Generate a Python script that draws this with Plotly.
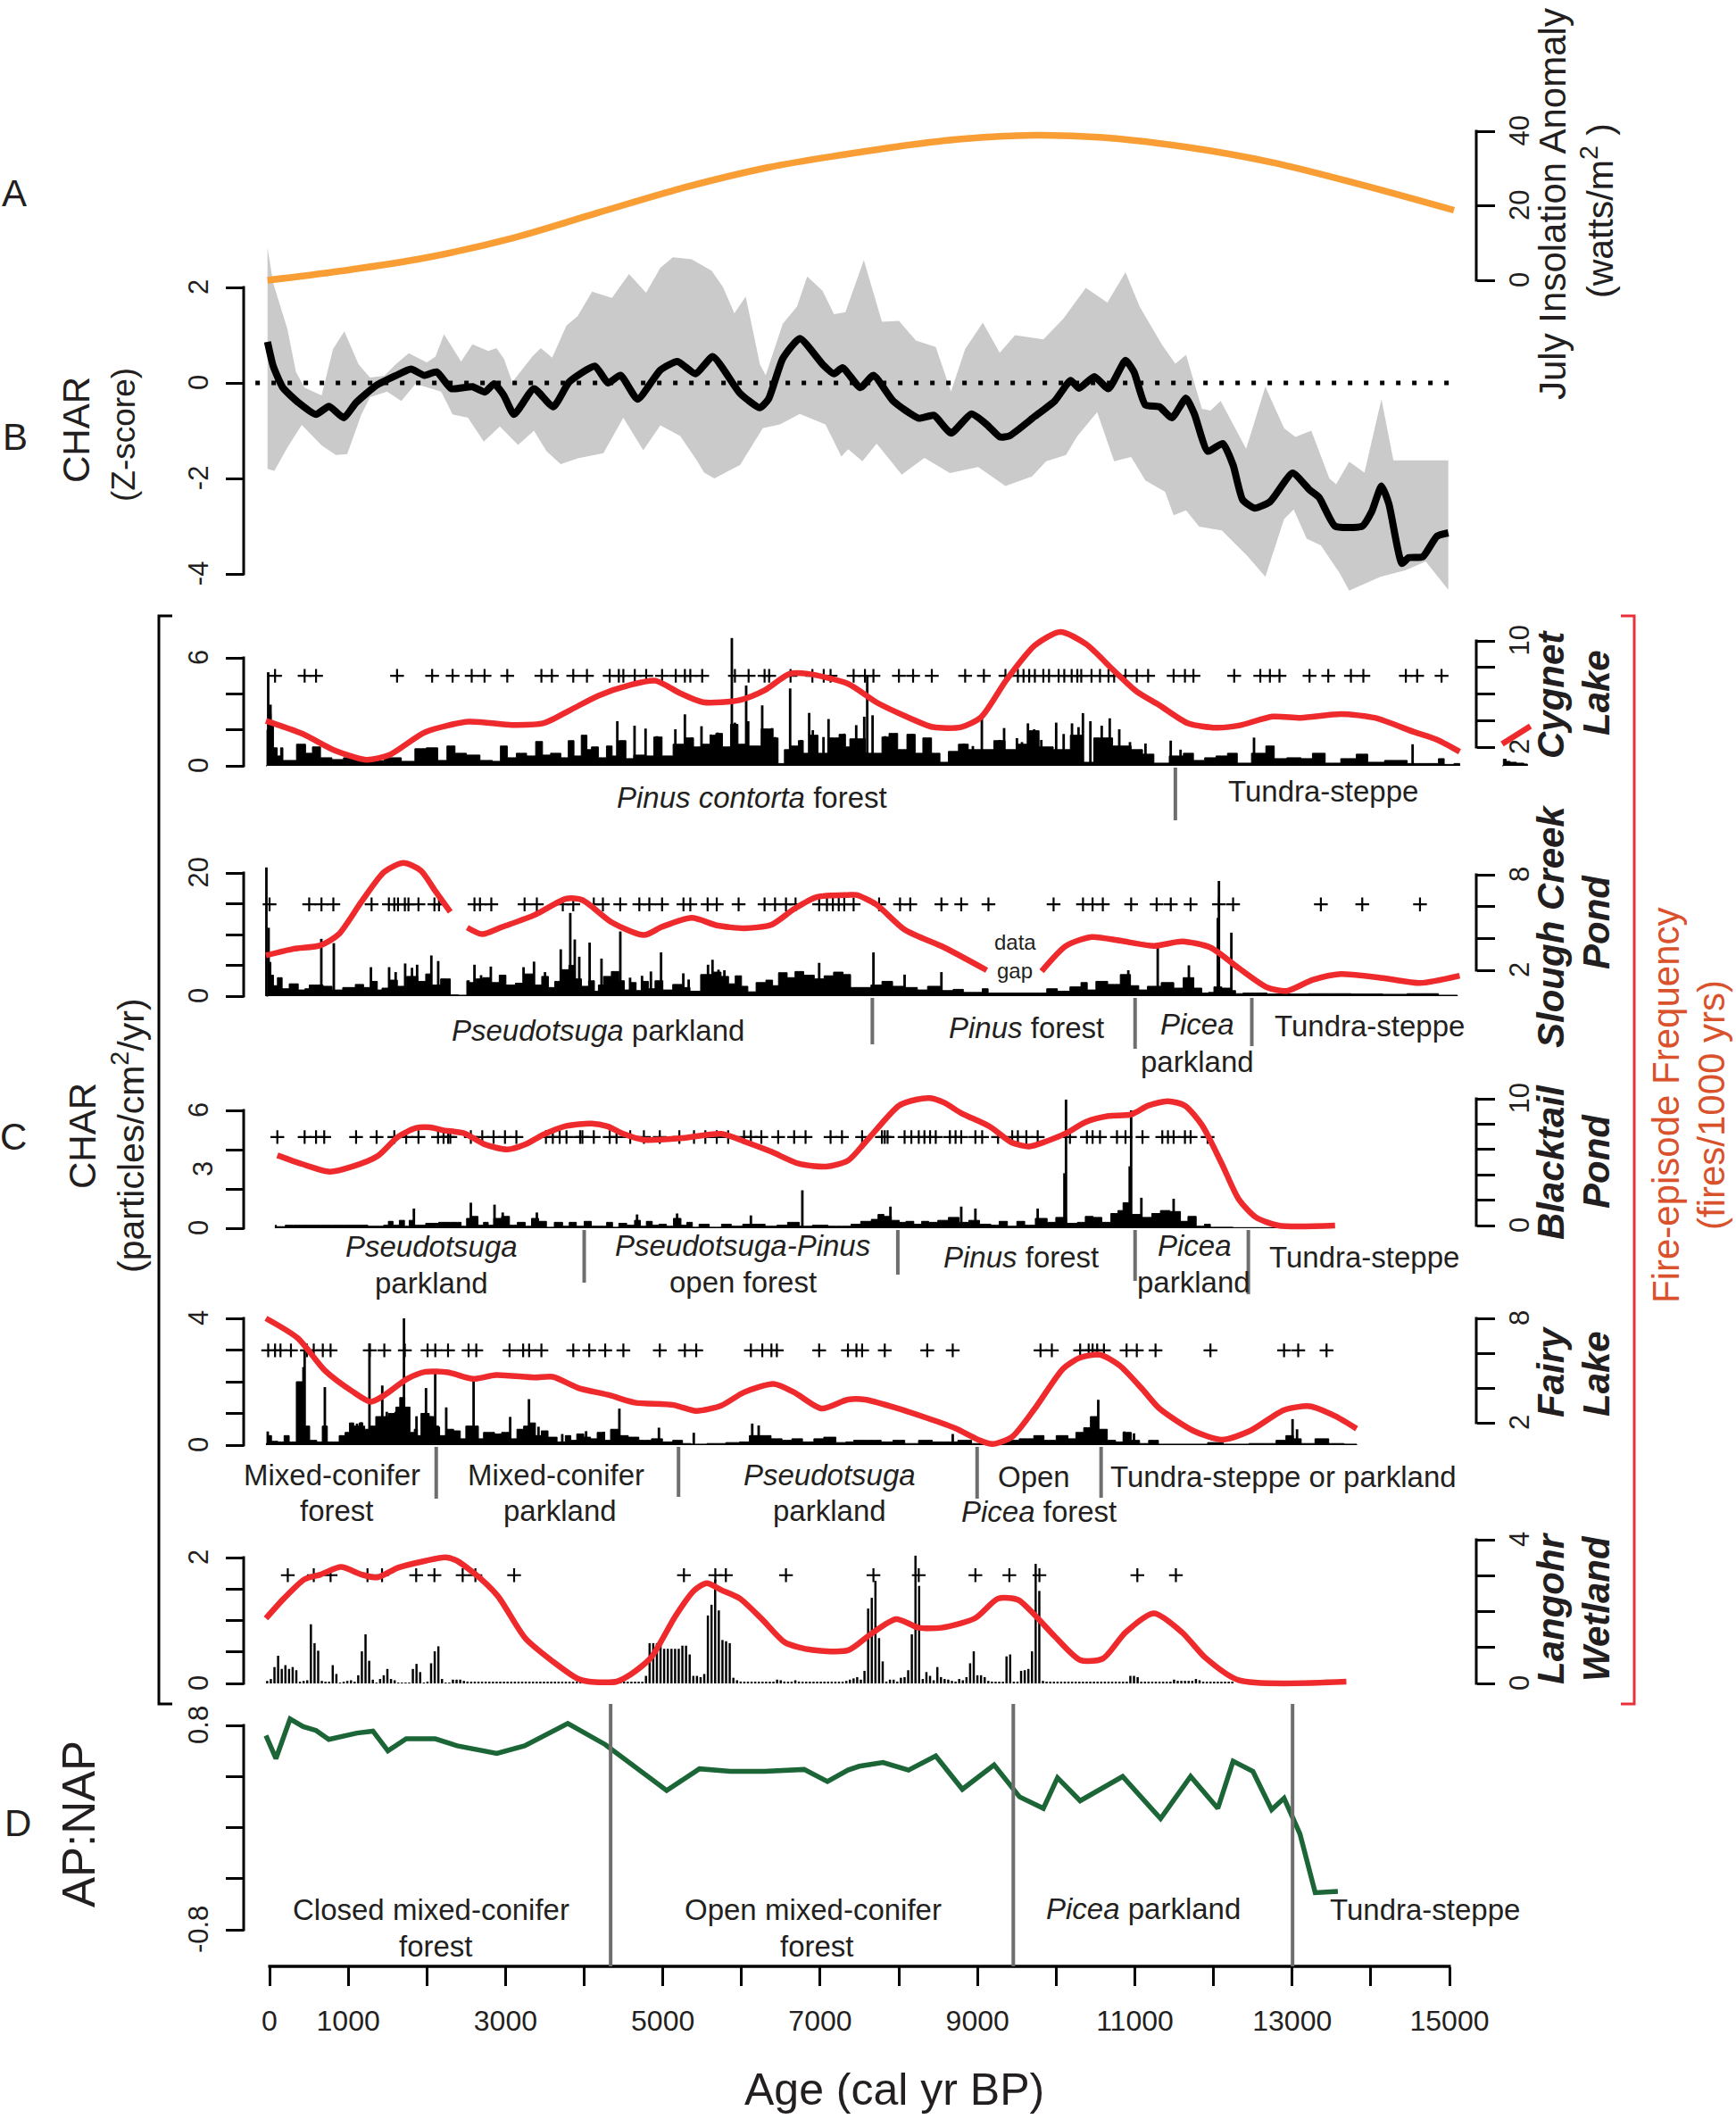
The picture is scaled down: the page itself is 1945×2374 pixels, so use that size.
import numpy as np
import plotly.graph_objects as go

W = 1945
H = 2374
FONT = 'Liberation Sans'
TXT = '#231f20'
RED = '#ee2a2c'
GRAYLINE = '#6e6e6e'
PAD = 60  # spare pixels round each y axis, lines get clipped at the domain

## A: insolation
insolation = [(-26,0),(915,2.5),(2001,6.1),(3086,11.3),(4172,18.1),(5257,24.8),(6343,30.3),(7353,33.9),(7921,35.7),
    (8793,37.9),(9729,38.9),(10593,38.3),(11673,35.7),(12753,31.6),(13833,25.9),(15057,18.8)]

## B: composite z-score
charZ = [(-26,.86),(47,.35),(170,-.10),(373,-.42),(590,-.66),(756,-.49),(944,-.73),(1096,-.42),(1350,-.06),(1603,.15),
    (1798,.29),(1964,.16),(2124,.23),(2312,-.12),(2580,-.08),(2739,-.19),(2855,-.02),(2978,-.26),(3108,-.66),(3361,-.12),
    (3607,-.50),(3810,.02),(4136,.35),(4302,0),(4461,.16),(4679,-.34),(4968,.27),(5185,.45),(5416,.19),(5634,.55),
    (5981,-.22),(6234,-.52),(6343,-.34),(6524,.51),(6741,.93),(7030,.39),(7175,.19),(7284,.32),(7511,-.10),(7677,.16),
    (7929,-.38),(8253,-.74),(8447,-.68),(8663,-1.05),(8923,-.65),(9117,-.87),(9283,-1.13),(9405,-1.11),(9729,-.70),
    (9981,-.38),(10183,.05),(10291,-.11),(10485,.13),(10665,-.12),(10881,.47),(10989,.23),(11133,-.46),(11313,-.50),
    (11471,-.73),(11651,-.32),(11759,-.66),(11925,-1.43),(12119,-1.27),(12249,-1.72),(12371,-2.45),(12523,-2.62),
    (12717,-2.49),(13005,-1.89),(13221,-2.24),(13343,-2.40),(13545,-3.00),(13891,-3.00),(14013,-2.69),(14135,-2.16),
    (14229,-2.53),(14395,-3.78),(14481,-3.66),(14661,-3.64),(14841,-3.21),(14985,-3.14)]
charZUpper = [(-26,2.83),(47,2.09),(228,1.12),(336,.23),(445,-.10),(662,-.26),(807,.71),(951,1.08),(1132,.39),(1277,.11),
    (1458,.15),(1603,.39),(1769,.62),(2000,.43),(2109,.55),(2218,1.02),(2435,.45),(2580,.81),(2782,.67),(2884,.73),
    (2978,.51),(3086,.02),(3340,.55),(3448,.73),(3593,.53),(3774,1.20),(3918,1.40),(4100,1.91),(4353,1.78),(4570,2.28),
    (4787,1.89),(4968,2.41),(5127,2.63),(5366,2.59),(5619,2.35),(5764,2.01),(5909,1.46),(6053,1.81),(6162,.96),(6234,.39),
    (6307,.16),(6524,1.24),(6705,1.60),(6835,2.23),(7030,1.93),(7175,1.44),(7320,1.48),(7555,2.57),(7785,1.28),(8001,1.30),
    (8217,.89),(8469,.75),(8663,-.18),(8843,.71),(9067,1.26),(9283,.63),(9477,1.00),(9837,.91),(10089,1.34),(10377,1.99),
    (10651,1.68),(10881,2.32),(11061,1.60),(11349,.79),(11515,.40),(11651,.59),(11853,-.54),(11961,-.58),(12091,-.38),
    (12415,-1.38),(12659,-.08),(12897,-.95),(13041,-1.13),(13243,-1.00),(13473,-2.00),(13559,-2.12),(13725,-1.65),
    (13919,-1.88),(14135,-.34),(14287,-1.62),(14985,-1.62)]
charZLower = [(14985,-4.33),(14697,-3.74),(14445,-3.92),(14121,-4.06),(13725,-4.35),(13603,-3.98),(13365,-3.40),(13185,-3.26),
    (13019,-2.65),(12897,-2.85),(12659,-4.06),(12429,-3.62),(12105,-3.09),(11817,-3.01),(11651,-2.67),(11493,-2.77),
    (11385,-2.28),(11133,-2.04),(10953,-1.55),(10737,-1.64),(10521,-.61),(10269,-1.11),(10125,-1.51),(9873,-1.64),
    (9693,-1.96),(9355,-2.16),(9009,-1.76),(8649,-1.89),(8325,-1.57),(8037,-1.92),(7718,-1.27),(7537,-1.64),(7356,-1.39),
    (7269,-1.54),(7067,-.87),(6741,-.65),(6487,-.87),(6270,-.95),(5981,-1.72),(5836,-1.84),(5655,-2.00),(5525,-1.88),
    (5438,-1.64),(5221,-1.11),(4968,-.89),(4751,-1.41),(4497,-.73),(4244,-1.47),(3918,-1.58),(3701,-1.70),(3521,-1.43),
    (3361,-1.00),(3159,-1.30),(2927,-.91),(2724,-1.23),(2522,-.73),(2326,-.66),(2182,-.18),(1856,-.02),(1675,-.38),
    (1494,-.18),(1277,-.30),(1168,-.66),(987,-1.49),(843,-1.51),(662,-1.31),(409,-.88),(228,-1.35),(61,-1.84),(-26,-1.80)]

## C: Cygnet Lake
cygFreq = [(-46,3.98),(417,3.01),(822,1.77),(1227,1.05),(1517,1.39),(1980,3.13),(2530,3.91),(3080,3.67),(3485,3.80),(3832,4.82),
    (4180,5.87),(4585,6.68),(4904,7.0),(5222,6.05),(5511,5.38),(5975,5.54),(6293,6.28),(6611,7.52),(6843,7.52),(7353,6.77),
    (7713,5.38),(8073,4.36),(8433,3.51),(8793,3.51),(9045,4.25),(9369,7.07),(9729,9.66),(10053,10.67),(10377,9.77),(10737,7.74),
    (11025,6.17),(11313,5.15),(11673,3.80),(12033,3.46),(12321,3.62),(12753,4.30),(13113,4.21),(13617,4.48),(14049,4.21),
    (14553,3.13),(14841,2.56),(15129,1.66)]
cygFreqStub = [(15669,2.23),(16029,3.58)]
cygFires = [70,446,591,1621,2067,2327,2570,2733,3022,3456,3589,3861,4035,4324,4440,4498,4643,4788,4990,5164,5280,5349,5500,
    5916,6090,6293,6351,6623,6901,7045,7132,7425,7569,7677,8001,8181,8419,8843,9081,9355,9513,9585,9657,9729,9837,9909,10031,
    10103,10197,10269,10319,10449,10557,10665,10737,10881,11025,11169,11493,11637,11745,12263,12595,12717,12839,13221,13459,
    13747,13905,14445,14589,14899]
cygFireLevel = 5.0
cygChar = [(-46,0),(-20,2.0),(10,2.9),(30,2.5),(70,1.0),(125,.55),(155,1.0),(185,.3),(270,.3),(415,1.2),(500,.7),(590,1.05),(705,.45),
    (880,.35),(1000,.45),(1170,.35),(1340,.28),(1575,.45),(1775,.25),(1920,.95),(2065,1.0),(2210,.3),(2300,1.1),(2415,.7),(2590,.6),
    (2760,.3),(2905,.25),(2965,1.1),(3080,.45),(3195,.7),(3340,.55),(3425,1.35),(3515,.6),(3630,.7),(3775,.45),(3820,1.4),(3920,.55),
    (4005,1.7),(4065,.9),(4120,1.05),(4240,.45),(4325,1.1),(4385,.55),(4500,1.4),(4560,.4),(4700,.6),(4840,.55),(4930,1.6),(5050,.55),
    (5210,1.2),(5360,1.55),(5420,1.05),(5570,1.2),(5630,1.7),(5715,1.8),(5800,1.05),(5920,2.3),(5990,1.2),(6150,1.1),(6350,2.05),
    (6450,1.55),(6480,.13),(6525,.13),(6565,.9),(6690,1.1),(6755,1.4),(6815,.7),(6930,1.7),(7015,.7),(7190,1.55),(7290,1.75),(7353,1.05),
    (7400,1.5),(7750,.7),(7820,1.6),(7930,1.8),(8040,.9),(8165,1.75),(8250,.7),(8360,1.55),(8470,.7),(8575,.2),(8685,.8),(8830,1.2),
    (8935,.9),(9155,.9),(9260,1.4),(9440,.9),(9550,1.2),(9730,1.95),(9835,1.05),(10090,.9),(10270,1.7),(10400,.2),(10555,1.55),(10880,1.1),
    (11025,.9),(11170,.65),(11315,.15),(11560,.55),(11675,.7),(11815,.3),(11960,.45),(12105,.55),(12250,.7),(12355,.15),(12610,.7),
    (12720,1.1),(12825,.4),(13040,.45),(13185,.4),(13330,.7),(13510,.15),(13725,.4),(13905,.65),(14015,.2),(14335,.3),(14590,.13),
    (14840,.13),(14880,.4),(14985,.08),(15130,.13),(15130,0)]
cygCharStub = [(15670,0),(15700,.37),(15740,.25),(15800,.2),(15900,.15),(15990,.1),(15990,0)]
cygSpikes = [(-17,5.2),(12,3.4),(4421,2.48),(4497,1.4),(4640,2.23),(4780,2.07),(4924,1.65),(5159,2.03),(5280,2.86),(5367,1.57),(5491,2.2),(5612,1.74),(5696,1.85),
    (5877,7.1),(5915,2.4),(6059,4.46),(6085,2.48),(6263,3.36),(6312,2.03),(6388,2.1),(6426,1.6),(6618,4.3),(6758,1.44),(6860,2.94),(6906,1.98),(7042,1.6),(7106,2.6),
    (7182,1.44),(7303,1.79),(7458,2.26),(7560,2.73),(7598,4.96),(7666,2.81),(7825,1.65),(7958,1.77),(8166,1.77),(8355,1.54),(8404,1.54),(8828,1.24),(8941,1.1),(9055,2.64),
    (9282,1.44),(9338,2.1),(9501,1.54),(9565,1.32),(9641,2.36),(9720,2.03),(9811,1.44),(10000,2.4),(10095,1.77),(10201,2.36),(10284,2.15),(10340,2.93),(10435,2.48),(10511,1.49),
    (10579,2.23),(10681,2.64),(10802,2.03),(10938,1.32),(11135,1.24),(11456,1.4),(11581,.9),(12515,1.57),(14531,1.2)]

## C: Slough Creek Pond
sloFreq = [(-46,2.93),(301,3.34),(648,3.56),(880,4.27),(1170,6.32),(1459,8.18),(1702,8.74),(1922,8.27),(2096,7.06),(2298,5.66),(None,None),
    (2513,4.68),(2704,4.27),(2964,4.73),(3369,5.47),(3775,6.50),(3977,6.41),(4353,5.0),(4759,4.21),(4990,4.73),(5367,5.29),(5685,4.82),
    (6032,4.64),(6380,4.86),(6669,5.85),(6958,6.60),(7352,6.73),(7461,6.73),(7713,6.13),(8073,4.55),(8577,3.43),(9117,2.0),(None,None),
    (9815,1.94),(10125,3.53),(10449,4.09),(10809,3.86),(11241,3.53),(11601,3.81),(11961,3.43),(12321,2.13),(12681,.92),(12933,.70),
    (13257,1.39),(13617,1.76),(14193,1.48),(14625,1.2),(15129,1.66)]
sloFires = [0,504,660,811,1297,1517,1586,1633,1720,1766,1893,2096,2154,2605,2675,2819,3242,3398,3728,3861,4122,4238,4458,4701,4828,4990,
    5262,5349,5569,5685,5963,6293,6426,6565,6687,6987,7086,7161,7236,7306,7425,7749,8015,8145,8541,8793,9139,9967,10341,10463,10593,
    10953,11277,11457,11709,12069,12249,13365,13891,14625]
sloFireLevel = 14.9
sloChar = [(-40,0),(5,5.5),(30,3.4),(70,1.7),(130,3.0),(190,1.2),(310,2.0),(420,1.0),(480,1.2),(530,1.8),(610,1.8),(750,1.6),(840,1.0),(1020,1.4),
    (1160,1.9),(1230,1.4),(1340,2.4),(1400,1.0),(1460,1.3),(1590,2.6),(1660,1.6),(1820,3.2),(1950,2.4),(2020,3.6),(2100,1.8),(2250,2.8),(2295,2.8),
    (2300,.2),(2505,.15),(2510,2.5),(2570,2.2),(2680,2.8),(2740,3),(2890,2.2),(2950,3.4),(3060,1.8),(3190,2.1),(3300,3.6),(3420,1.8),(3500,3.2),
    (3590,1.4),(3660,2.4),(3760,4.3),(3850,5.0),(3920,2.8),(4010,1.6),(4100,2.5),(4160,.8),(4200,1.8),(4290,3.2),(4400,4.0),(4480,2.5),(4540,1.0),
    (4620,2.2),(4700,.9),(4780,2.4),(4850,1.2),(4950,2.5),(5050,1.0),(5200,1.9),(5290,1.4),(5400,.8),(5560,3.5),(5690,3.9),(5790,3.2),(5880,2.0),
    (5960,3.3),(6040,1.6),(6120,.7),(6250,2.2),(6370,2.6),(6420,1.7),(6520,3.8),(6640,3.0),(6720,4.0),(6860,3.4),(6990,2.8),(7110,3.3),(7230,3.9),
    (7353,3.5),(7420,1.4),(7570,1.4),(7720,1.8),(7850,2.4),(7990,1.6),(8170,1.4),(8300,1.0),(8430,1.6),(8620,.9),(8760,1.1),(8880,.6),(9000,.6),
    (9120,1.2),(9150,.5),(9800,.5),(9960,1.2),(10070,.8),(10280,1.5),(10350,2.2),(10440,1.0),(10570,2.4),(10740,1.9),(10890,3.5),(11000,1.7),
    (11100,1.0),(11220,1.6),(11450,2.2),(11540,1.3),(11690,3.0),(11810,1.3),(11890,.5),(11980,.6),(12030,1.5),(12180,1.3),(12270,.9),(12290,.4),
    (12460,.5),(12900,.35),(13500,.4),(14000,.35),(14300,.3),(14620,.4),(15100,.15),(15100,0)]
sloSpikes = [(-40,20.9),(-12,11.1),(658,9.3),(817,8.6),(1289,4.7),(1520,4.7),(1603,3.9),(1724,5.3),(1811,4.6),(1876,5.1),(2057,6.6),(2144,5.7),(2605,5.1),(2689,3.4),(2813,4.8),
    (3229,4.7),(3362,5.6),(3502,3.9),(3702,7.6),(3823,13.5),(3880,9.2),(3937,6.4),(4069,8.7),(4220,6.1),(4459,10.5),(4583,3.0),(4735,3.3),(4848,4.0),(4977,7.1),(5260,3.7),(5328,2.7),
    (5574,5.1),(5631,5.9),(5707,4.3),(5782,4.2),(6987,5.4),(7677,7.1),(8073,3.5),(8541,3.9),(10917,4.2),(11291,8.1),(11687,5.0),(12055,12.7),(12069,18.7),(12227,10.3)]

## C: Blacktail Pond
blaFreq = [(99,5.54),(417,4.84),(764,4.25),(1054,4.65),(1372,5.47),(1633,7.0),(1864,7.7),(2038,7.75),(2212,7.51),(2472,7.28),(2733,6.41),(3022,6.0),
    (3254,6.41),(3485,7.18),(3775,7.86),(4093,8.05),(4296,7.82),(4498,7.23),(4759,6.76),(5222,6.88),(5743,7.23),(6032,6.64),(6380,5.82),(6727,4.88),
    (7074,4.65),(7353,5.12),(7569,6.53),(8001,9.46),(8217,9.93),(8397,10.05),(8577,9.69),(8793,8.87),(9153,7.82),(9441,6.53),(9657,6.24),(9873,6.64),
    (10125,7.28),(10377,8.17),(10665,8.64),(10953,8.76),(11169,9.46),(11421,9.81),(11637,9.46),(11853,7.93),(12105,4.88),(12321,2.07),(12537,.66),
    (12825,0),(13545,0)]
blaFires = [99,446,591,695,1100,1361,1586,1737,1893,2142,2212,2270,2298,2559,2704,2848,2993,3138,3514,3601,3688,3775,3948,3977,4122,4324,4411,4585,
    4759,4961,5210,5396,5540,5685,5830,6032,6119,6252,6466,6669,6814,7132,7277,7533,7785,7821,7857,8073,8159,8253,8325,8397,8469,8649,8721,8793,8973,
    9059,9261,9441,9513,9621,9765,10175,10391,10463,10557,10773,10881,11097,11349,11421,11493,11637,11709,11925]
blaFireLevel = 4.64
blaChar = [(70,0),(75,.15),(100,.08),(300,.15),(500,.15),(800,.15),(1100,.15),(1400,.1),(1500,.15),(1520,.35),(1620,.15),(1680,.4),(1750,.1),(1800,.4),
    (1870,.15),(2100,.25),(2200,.3),(2390,.3),(2480,.1),(2530,.5),(2620,.6),(2680,.15),(2760,.3),(2800,.15),(2900,.5),(3000,.6),(3100,.15),(3200,.3),
    (3300,.1),(3360,.5),(3480,.35),(3560,.05),(3680,.3),(3770,.1),(3850,.3),(3950,.1),(4050,.35),(4130,.1),(4250,.1),(4320,.3),(4400,.05),(4480,.25),
    (4600,.15),(4680,.4),(4750,.1),(4830,.35),(4900,.15),(5000,.2),(5090,.1),(5180,.5),(5280,.15),(5330,.3),(5420,.05),(5500,.2),(5680,.05),(5810,.2),
    (5930,.1),(6100,.2),(6200,.2),(6400,.1),(6500,.15),(6670,.3),(6800,.1),(7000,.15),(7200,.1),(7353,.1),(7430,.2),(7600,.35),(7700,.45),(7770,.7),
    (7850,.6),(7960,.4),(8050,.3),(8130,.35),(8250,.2),(8330,.35),(8430,.3),(8560,.4),(8700,.55),(8830,.3),(8950,.4),(9100,.2),(9240,.15),(9310,.35),
    (9450,.1),(9550,.35),(9650,.15),(9820,.5),(9950,.3),(10040,.55),(10220,.25),(10320,.3),(10420,.6),(10520,.55),(10640,.3),(10750,.75),(10820,.9),
    (10880,1.3),(11030,.7),(11150,.55),(11280,.75),(11370,.9),(11520,.85),(11640,.35),(11710,.6),(11850,.1),(11920,.2),(12000,.05),(12500,.03),
    (13500,.03),(13500,0)]
blaSpikes = [(1835,1.0),(2559,1.3),(2860,1.2),(2964,.8),(3398,.8),(4672,.7),(5181,.75),(6119,.65),(6773,1.93),(7893,1.1),(8793,1.1),(8973,1.0),(9765,1.0),
    (10105,2.8),(10125,6.55),(10935,3.15),(10953,6.0),(11083,1.55),(11493,1.5)]

## C: Fairy Lake
faiFreq = [(-46,8.0),(359,6.86),(706,4.99),(1054,3.80),(1285,3.21),(1459,3.58),(1748,4.52),(1980,4.93),(2269,4.90),(2588,4.52),(2877,4.74),(3369,4.6),
    (3601,4.64),(3919,4.01),(4325,3.58),(4643,3.16),(5135,3.02),(5424,2.68),(5743,2.99),(6032,3.75),(6409,4.23),(6669,3.75),(7016,2.82),(7352,3.33),
    (7569,3.33),(7929,2.9),(8361,2.27),(8721,1.68),(9009,1.03),(9189,.78),(9441,1.2),(9729,2.82),(10089,5.11),(10305,5.74),(10557,5.91),(10809,5.28),
    (11097,3.92),(11313,2.82),(11745,1.54),(12105,1.03),(12465,1.54),(12897,2.73),(13221,2.95),(13545,2.39),(13819,1.66)]
faiFires = [-17,70,139,272,475,562,677,776,1274,1459,1720,2009,2107,2269,2530,2628,3051,3224,3300,3456,3861,4064,4267,4498,4961,5280,5424,6119,6264,
    6380,6449,6987,7353,7461,7533,7821,8361,8685,9801,9945,10305,10413,10463,10521,10607,10895,11025,11263,11961,12897,13077,13437]
faiFireLevel = 2.99
faiChar = [(-46,.05),(-10,.3),(60,.12),(150,.1),(220,.3),(280,.1),(400,2.0),(460,.6),(560,.15),(640,.1),(700,.6),(770,.1),(850,.1),(920,.3),(1000,.4),
    (1030,.7),(1110,.6),(1170,.7),(1200,.6),(1220,.5),(1320,.6),(1380,.9),(1490,.9),(1530,1.0),(1590,1.0),(1620,1.2),(1690,1.5),(1750,1.2),(1820,.4),
    (1860,.5),(1900,.3),(1950,1.0),(2000,1.0),(2060,.9),(2120,.6),(2180,.3),(2220,.3),(2280,.5),(2400,.45),(2450,.2),(2540,.6),(2620,.6),(2690,.2),
    (2750,.4),(2820,.4),(2900,.35),(3000,.4),(3090,.2),(3200,.5),(3260,.6),(3340,.7),(3420,.3),(3490,.45),(3590,.25),(3720,.1),(3800,.3),(3860,.15),
    (3950,.35),(4040,.25),(4120,.2),(4210,.4),(4290,.15),(4380,.5),(4500,.3),(4620,.25),(4770,.15),(4940,.2),(5050,.1),(5200,.15),(5300,.05),(5420,.03),
    (5700,.05),(5900,.08),(6050,.1),(6150,.3),(6300,.3),(6450,.2),(6580,.15),(6700,.2),(6850,.1),(6990,.2),(7100,.25),(7300,.08),(7353,.1),(7500,.15),
    (7700,.15),(7850,.1),(8000,.15),(8150,.05),(8350,.15),(8500,.1),(8650,.1),(8850,.15),(9000,.05),(9200,.1),(9420,.15),(9640,.2),(9790,.3),(9900,.15),
    (10100,.3),(10200,.2),(10300,.4),(10400,.55),(10470,.9),(10600,.5),(10700,.15),(10810,.1),(10890,.4),(11020,.15),(11100,.05),(11250,.15),(11350,.03),
    (11800,.03),(12050,.08),(12200,.03),(12700,.05),(12890,.15),(12950,.3),(13080,.2),(13150,.05),(13430,.2),(13500,.05),(13820,.03),(13820,0)]
faiSpikes = [(-23,.43),(431,2.46),(446,2.98),(703,1.83),(1112,.68),(1168,.72),(1270,3.21),(1433,1.88),(1490,1.05),(1603,1.05),(1709,4.0),(1868,.91),(1944,1.0),(1989,1.8),(2050,.91),
    (2106,2.27),(2152,.58),(2246,1.19),(2594,2.08),(2757,.39),(3059,.89),(3191,.49),(3298,1.45),(3419,.58),(3513,.42),(3721,.35),(4024,.44),(4251,.42),(4447,1.15),(4950,.55),(5393,.39),
    (6136,.68),(6218,.62),(8685,.35),(10463,.73),(10535,1.43),(10867,.43),(10989,.37),(13005,.82),(13062,.5)]

## C: Langohr Wetland
lanFreq = [(-46,1.81),(185,2.37),(446,2.90),(648,3.03),(909,3.24),(1170,3.03),(1372,2.95),(1633,3.22),(1980,3.41),(2240,3.51),(2385,3.41),(2675,2.93),(2906,2.42),
    (3254,1.25),(3601,.61),(3919,.13),(4064,.05),(4411,.05),(4585,.24),(4846,.71),(5164,1.89),(5395,2.58),(5558,2.79),(5743,2.6),(5975,2.37),(6264,1.78),(6553,1.14),
    (6901,.93),(7352,.92),(7641,1.37),(7965,1.79),(8253,1.55),(8541,1.55),(8973,1.82),(9261,2.36),(9513,2.33),(9729,1.9),(9981,1.31),(10305,.65),(10593,.69),(10881,1.42),
    (11241,1.95),(11601,1.42),(11889,.73),(12321,.09),(13689,.05)]
lanFires = [232,562,776,1245,1430,1864,2096,2455,2617,3109,5268,5667,5801,6565,7677,8253,8973,9405,9787,11032,11522]
lanFireLevel = 1.72
lanStart = -30
lanStep = 46.3  # sampling interval of the record
lanChar = [.04,.07,.26,.44,.23,.29,.23,.26,.21,.02,.04,.05,.94,.64,.52,.04,.02,.02,.29,.15,.01,.02,.04,.05,.02,.13,.51,.78,.36,.06,.01,.07,.13,.23,.07,.05,
    .01,.01,.01,.01,.23,.31,.18,.01,.02,.32,.51,.59,.07,.01,.01,.06,.06,.06,.04,.03] + [.02]*48 + [.12,.64,.64,.64,.64,.55,.55,.55,.55,.55,.6,.6,.46,.12,.12,.1,
    .15,1.08,1.25,1.65,1.16,.69,.67,.64,.09,.05,.03,.02] + [.02]*8 + [.06,.05,.03,.02,.02,.05,.03] + [.02]*12 + [.04,.06,.08,.1,.06,.2,1.19,1.36,1.63,.72,.35,.03,
    .06,.06,.03,.09,.1,.21,.78,2.03,1.55,.07,.18,.12,.05,.26,.1,.07,.06,.04,.03,.07,.05,.1,.32,.51,.13,.13,.1,.04,.03,.02,.02,.02,.43,.46,.02,.02,.2,.21,.23,.51,
    1.9,1.47,.04] + [.02]*23 + [.12,.12,.1] + [.02]*9 + [.06,.04,.04,.04,.04,.04,.07,.05] + [.02]*9

## D: AP:NAP
apNap = [(-46,.72),(81,.54),(261,.85),(428,.79),(591,.76),(753,.69),(1112,.74),(1314,.755),(1505,.60),(1737,.695),(2107,.695),(2385,.64),(2889,.58),(3242,.64),(3792,.815),
    (4267,.65),(5048,.29),(5465,.46),(5859,.44),(6293,.44),(6796,.455),(7092,.36),(7353,.45),(7497,.48),(7799,.51),(8123,.45),(8469,.56),(8807,.30),(9211,.49),(9535,.24),
    (9837,.15),(10017,.39),(10305,.21),(10557,.30),(10845,.40),(11327,.07),(11709,.40),(12055,.15),(12249,.52),(12501,.44),(12739,.14),(12897,.23),(13099,-.05),(13293,-.51),(13581,-.50)]

## boundaries: age, bottom pixel of the line
cygBounds = [(11515,919)]
sloBounds = [(7663,1170),(11003,1175),(12487,1172)]
blaBounds = [(4000,1437),(7987,1428),(11003,1435),(12443,1450)]
faiBounds = [(2119,1679),(5199,1677),(8995,1679),(10571,1678)]
pollenBounds = [4336,9455,13005]
xMajor = [0,1000,3000,5000,7000,9000,11000,13000,15000]
xMinor = [2000,4000,6000,8000,10000,12000,14000]


def unzip(pairs):
    return [p[0] for p in pairs], [p[1] for p in pairs]

def px(x):
    return x/W

def py(y):
    return 1-y/H

spines = []
def yAxis(top,bottom,lo,hi,labelled,minor,side='left'):
    pos = 273 if side == 'left' else 1654
    unit = (hi-lo)/(bottom-top)
    spines.append(dict(type='line',xref='paper',yref='paper',x0=px(pos),x1=px(pos),y0=py(top-1.5),y1=py(bottom+1.5),line=dict(color='black',width=3)))
    return dict(domain=[py(bottom+PAD),py(top-PAD)],range=[lo-PAD*unit,hi+PAD*unit],anchor='free',position=px(pos),side=side,automargin=False,
        tickmode='array',tickvals=labelled,ticktext=[f'{v:g}' for v in labelled],tickangle=-90,ticks='outside',ticklen=20,tickwidth=3,tickcolor='black',
        minor=dict(tickmode='array',tickvals=minor,ticks='outside',ticklen=20,tickwidth=3,tickcolor='black',showgrid=False),
        showline=False,showgrid=False,zeroline=False,
        ticklabelstandoff=8 if side == 'left' else 1,ticklabelshift=4,
        tickfont=dict(family=FONT,size=31,color=TXT))

def redLine(fig,pairs,ax):
    xs,ys = unzip(pairs)
    fig.add_trace(go.Scatter(x=xs,y=ys,yaxis=ax,mode='lines',connectgaps=False,
        line=dict(color=RED,width=6.5,shape='spline',smoothing=0.7)))

def charArea(fig,pairs,ax):
    xs,ys = unzip(pairs)
    fig.add_trace(go.Scatter(x=xs,y=ys,yaxis=ax,mode='lines',fill='tozeroy',fillcolor='black',
        line=dict(color='black',width=1,shape='hvh')))

def charSpikes(fig,pairs,ax):
    xs,ys = unzip(pairs)
    fig.add_trace(go.Bar(x=xs,y=ys,yaxis=ax,width=32,marker=dict(color='black',line=dict(width=0))))

def fires(fig,ages,level,ax):
    fig.add_trace(go.Scatter(x=ages,y=[level]*len(ages),yaxis=ax,mode='markers',
        marker=dict(symbol='cross-thin',size=11,line=dict(color='black',width=2.2))))


fig = go.Figure()
## panel B first so the orange curve lands on top of the band
upX,upY = unzip(charZUpper)
loX,loY = unzip(charZLower)
fig.add_trace(go.Scatter(x=upX+loX,y=upY+loY,yaxis='y',mode='lines',fill='toself',fillcolor='#cbcaca',line=dict(width=0)))
fig.add_trace(go.Scatter(x=[-180,15000],y=[0,0],yaxis='y',mode='lines',line=dict(color='black',width=5,dash='5px,13px')))
zX,zY = unzip(charZ)
fig.add_trace(go.Scatter(x=zX,y=zY,yaxis='y',mode='lines',line=dict(color='black',width=8,shape='spline',smoothing=0.5)))
inX,inY = unzip(insolation)
fig.add_trace(go.Scatter(x=inX,y=inY,yaxis='y2',mode='lines',line=dict(color='#f99d35',width=7.5,shape='spline')))

## panel C, one pair of axes per site
charArea(fig,cygChar,'y3')
charArea(fig,cygCharStub,'y3')
charSpikes(fig,cygSpikes,'y3')
fires(fig,cygFires,cygFireLevel,'y3')
redLine(fig,cygFreq,'y4')
redLine(fig,cygFreqStub,'y4')

charArea(fig,sloChar,'y5')
charSpikes(fig,sloSpikes,'y5')
fires(fig,sloFires,sloFireLevel,'y5')
redLine(fig,sloFreq,'y6')

charArea(fig,blaChar,'y7')
charSpikes(fig,blaSpikes,'y7')
fires(fig,blaFires,blaFireLevel,'y7')
redLine(fig,blaFreq,'y8')

charArea(fig,faiChar,'y9')
charSpikes(fig,faiSpikes,'y9')
fires(fig,faiFires,faiFireLevel,'y9')
redLine(fig,faiFreq,'y10')

lanAges = [lanStart+lanStep*i for i in range(len(lanChar))]
fig.add_trace(go.Bar(x=lanAges,y=lanChar,yaxis='y11',width=28,marker=dict(color='black',line=dict(width=0))))
fires(fig,lanFires,lanFireLevel,'y11')
redLine(fig,lanFreq,'y12')

## panel D
apX,apY = unzip(apNap)
fig.add_trace(go.Scatter(x=apX,y=apY,yaxis='y13',mode='lines',line=dict(color='#1b6537',width=5.5)))

axes = dict(
    yaxis=yAxis(322,643,-4,2,[-4,-2,0,2],[]),
    yaxis2=yAxis(147,314,0,40,[0,20,40],[],'right'),
    yaxis3=yAxis(737,858,0,6,[0,6],[2,4]),
    yaxis4=yAxis(718,837,2,10,[2,10],[4,6,8],'right'),
    yaxis5=yAxis(978,1116,0,20,[0,20],[5,10,15]),
    yaxis6=yAxis(980,1087,2,8,[2,8],[4,6],'right'),
    yaxis7=yAxis(1244,1376,0,6,[0,6],[2,4]),
    yaxis8=yAxis(1231,1373,0,10,[0,10],[2,4,6,8],'right'),
    yaxis9=yAxis(1477,1619,0,4,[0,4],[1,2,3]),
    yaxis10=yAxis(1477,1594,2,8,[2,8],[4,6],'right'),
    yaxis11=yAxis(1745,1886,0,2,[0,2],[.5,1,1.5]),
    yaxis12=yAxis(1725,1886,0,4,[0,4],[1,2,3],'right'),
    yaxis13=yAxis(1933,2162,-.8,.8,[-.8,.8],[-.4,0,.4]),
)

shapes = list(spines)
## x axis spine, the axis itself spans the whole page
shapes.append(dict(type='line',xref='paper',yref='paper',x0=px(300.5),x1=px(1625.5),y0=py(2203),y1=py(2203),line=dict(color='black',width=3.5)))

def boundLine(age,top,bottom,width=4):
    shapes.append(dict(type='line',xref='x',yref='paper',x0=age,x1=age,y0=py(top),y1=py(bottom),line=dict(color=GRAYLINE,width=width)))

for age,bottom in cygBounds:
    boundLine(age,860,bottom)
for age,bottom in sloBounds:
    boundLine(age,1118,bottom)
for age,bottom in blaBounds:
    boundLine(age,1378,bottom)
for age,bottom in faiBounds:
    boundLine(age,1621,bottom)
for age in pollenBounds:
    boundLine(age,1909,2203)

## brackets around panel C
for path,col in [(f'M {px(193)},{py(690)} L {px(178)},{py(690)} L {px(178)},{py(1909)} L {px(193)},{py(1909)}','black'),
                 (f'M {px(1816)},{py(690)} L {px(1831)},{py(690)} L {px(1831)},{py(1909)} L {px(1816)},{py(1909)}','#e9303a')]:
    shapes.append(dict(type='path',xref='paper',yref='paper',path=path,line=dict(color=col,width=3)))

notes = []
def addText(x,y,txt,size=33,angle=0,color=TXT):
    notes.append(dict(x=px(x),y=py(y),xref='paper',yref='paper',text=txt,showarrow=False,xanchor='center',yanchor='middle',
        textangle=angle,font=dict(family=FONT,size=size,color=color)))

## panel letters
addText(16,216,'A',42)
addText(17,489,'B',42)
addText(15,1273,'C',42)
addText(20,2042,'D',42)
## axis titles
addText(86,482,'CHAR',42,-90)
addText(138,487,'(Z-score)',37,-90)
addText(92,1273,'CHAR',42,-90)
addText(144,1272,'(particles/cm<sup>2</sup>/yr)',41,-90)
addText(88,2044,'AP:NAP',51,-90)
addText(1002,2341,'Age (cal yr BP)',50)
addText(1740,229,'July Insolation Anomaly',42,-90)
addText(1790,236,'(watts/m<sup>2</sup> )',41,-90)
addText(1867,1238,'Fire-episode Frequency',42,-90,'#d9522c')
addText(1918,1238,'(fires/1000 yrs)',42,-90,'#d9522c')
addText(227,1310,'3',31,-90)
## site names
for x,y,t in [(1737,778,'Cygnet'),(1788,776,'Lake'),(1737,1038,'Slough Creek'),(1788,1033,'Pond'),(1737,1302,'Blacktail'),(1788,1301,'Pond'),
              (1737,1537,'Fairy'),(1788,1539,'Lake'),(1737,1802,'Langohr'),(1788,1802,'Wetland')]:
    addText(x,y,f'<b><i>{t}</i></b>',42,-90)
## vegetation zones
for x,y,t in [(844,896,'<i>Pinus contorta</i> forest'),(1484,890,'Tundra-steppe'),
              (672,1157,'<i>Pseudotsuga</i> parkland'),(1152,1154,'<i>Pinus</i> forest'),(1343,1151,'<i>Picea</i>'),(1343,1192,'parkland'),(1536,1152,'Tundra-steppe'),
              (485,1399,'<i>Pseudotsuga</i>'),(485,1440,'parkland'),(834,1398,'<i>Pseudotsuga-Pinus</i>'),(834,1439,'open forest'),(1146,1411,'<i>Pinus</i> forest'),
              (1340,1398,'<i>Picea</i>'),(1339,1439,'parkland'),(1530,1411,'Tundra-steppe'),
              (374,1655,'Mixed-conifer'),(379,1695,'forest'),(625,1655,'Mixed-conifer'),(629,1695,'parkland'),(931,1655,'<i>Pseudotsuga</i>'),(931,1695,'parkland'),
              (1160,1657,'Open'),(1166,1696,'<i>Picea</i> forest'),(1440,1657,'Tundra-steppe or parkland'),
              (485,2142,'Closed mixed-conifer'),(490,2183,'forest'),(913,2142,'Open mixed-conifer'),(917,2183,'forest'),(1283,2141,'<i>Picea</i> parkland'),(1598,2142,'Tundra-steppe')]:
    addText(x-2,y-3,t)
addText(1137,1056,'data',24)
addText(1137,1087,'gap',24)

## 0 sits at pixel 302 and 15000 at pixel 1624
yrPerPx = 15000/(1624-302)
fig.update_layout(
    template='none',
    width=W,height=H,margin=dict(l=0,r=0,t=0,b=0),autosize=False,
    paper_bgcolor='white',plot_bgcolor='rgba(0,0,0,0)',showlegend=False,barmode='overlay',
    shapes=shapes,annotations=notes,
    xaxis=dict(domain=[0,1],range=[-302*yrPerPx,(W-302)*yrPerPx],anchor='free',position=py(2203),side='bottom',automargin=False,
        tickmode='array',tickvals=xMajor,ticktext=[str(v) for v in xMajor],tickangle=0,ticks='outside',ticklen=21,tickwidth=3,tickcolor='black',
        minor=dict(tickmode='array',tickvals=xMinor,ticks='outside',ticklen=21,tickwidth=3,tickcolor='black',showgrid=False),
        showline=False,showgrid=False,zeroline=False,ticklabelstandoff=12,
        tickfont=dict(family=FONT,size=32,color=TXT)),
    **axes,
)
fig.write_html("out.html",post_script="document.body.style.margin='0';",config=dict(displayModeBar=False))
